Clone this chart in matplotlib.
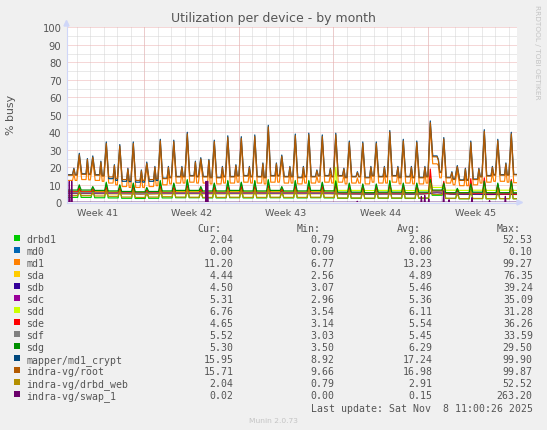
import matplotlib
matplotlib.use("Agg")
import matplotlib.pyplot as plt
from matplotlib.patches import Rectangle, Polygon
from matplotlib.lines import Line2D
from matplotlib.transforms import blended_transform_factory

W, H = 547, 431
DAYS = 33.333          # munin "month" = 800 h
FIRST_PEAK = 0.91      # first daily peak (days from left edge)
FIRST_SUNDAY = 5.73    # first week boundary (days from left edge)

TITLE = "Utilization per device - by month"
YLABEL = "% busy"
WEEKS = ["Week 41", "Week 42", "Week 43", "Week 44", "Week 45"]

NAMES = ["drbd1", "md0", "md1", "sda", "sdb", "sdc", "sdd", "sde", "sdf", "sdg",
         "mapper/md1_crypt", "indra-vg/root", "indra-vg/drbd_web", "indra-vg/swap_1"]
COLORS = ["#00CC00", "#0066B3", "#FF8000", "#FFCC00", "#330099", "#990099", "#CCFF00",
          "#FF0000", "#808080", "#008F00", "#00487D", "#B35A00", "#B38F00", "#6B006B"]
CUR = [2.04, 0.00, 11.20, 4.44, 4.50, 5.31, 6.76, 4.65, 5.52, 5.30, 15.95, 15.71, 2.04, 0.02]
MIN = [0.79, 0.00, 6.77, 2.56, 3.07, 2.96, 3.54, 3.14, 3.03, 3.50, 8.92, 9.66, 0.79, 0.00]
AVG = [2.86, 0.00, 13.23, 4.89, 5.46, 5.36, 6.11, 5.54, 5.45, 6.29, 17.24, 16.98, 2.91, 0.15]
MAX = [52.53, 0.10, 99.27, 76.35, 39.24, 35.09, 31.28, 36.26, 33.59, 29.50, 99.90, 99.87, 52.52, 263.20]

# ---- series (one value per day) ----
ROOT_PEAK = [27.2, 25.7, 33.6, 32.2, 33.6, 22.2, 35.1, 34.7, 39.1, 24.8, 34.7, 37.1, 36.6, 37.6, 43.1, 26.3,
             38.1, 38.6, 37.6, 38.6, 34.2, 33.7, 33.6, 40.1, 35.1, 34.2, 45.5, 36.2, 20.4, 34.2, 40.6, 35.2, 39.1]
ROOT_SECOND = [19, 24.5, 23, 21, 19, 18, 20, 20, 20, 23, 24, 20, 21, 20, 22, 22, 20, 20, 18, 19, 19, 17,
               20, 20, 20, 20, 20, 24, 17, 19, 19, 20, 22]
ROOT_BASE_A = [15.5, 16, 15.5, 14.5, 13, 12.5, 13, 13.5, 14.5, 15, 14.5, 14, 14.5, 15, 14.5, 15, 14.5, 14,
               14.5, 15, 15, 14.5, 14, 14.5, 15, 14.5, 14, 26, 14, 12.5, 13, 15, 15.5]
ROOT_BASE_B = [15.5, 15.8, 15, 13.5, 12.5, 12.5, 13.5, 14, 14.5, 14.5, 14, 14.5, 15, 14.5, 14, 15, 14.5, 14.5,
               15, 14.5, 14, 14.5, 15, 14.5, 14, 14, 14.5, 17, 13, 12.5, 14.5, 15.5, 15.5]

MAP_PEAK = [28, 26.5, 34.5, 33, 34.5, 23, 36, 35.5, 40, 25.5, 35.5, 38, 37.5, 38.5, 44, 27, 39, 39.5, 38.5,
            39.5, 35, 34.5, 34.5, 41, 36, 35, 46.5, 37, 21, 35, 41.5, 36, 40]
MAP_SECOND = [19.5, 25, 23.5, 21.5, 19.5, 18.5, 20.5, 20.5, 20.5, 23.5, 24.5, 20.5, 21.5, 20.5, 22.5, 22.5,
              20.5, 20.5, 18.5, 19.5, 19.5, 17.5, 20.5, 20.5, 20.5, 20.5, 20.5, 24.5, 17.5, 19.5, 19.5, 20.5, 22.5]
MAP_BASE_A = [15.8, 16.3, 15.8, 13.5, 12, 11.5, 12, 13.8, 14.8, 15.3, 14.8, 14.3, 14.8, 15.3, 14.8, 15.3, 14.8,
              14.3, 14.8, 15.3, 15.3, 14.8, 14.3, 14.8, 15.3, 14.8, 14.3, 26.5, 14.3, 12.8, 13.3, 15.3, 15.8]
MAP_BASE_B = [15.8, 16.1, 15.3, 12.5, 11.8, 11.5, 12.5, 14.3, 14.8, 14.8, 14.3, 14.8, 15.3, 14.8, 14.3, 15.3,
              14.8, 14.8, 15.3, 14.8, 14.3, 14.8, 15.3, 14.8, 14.3, 14.3, 14.8, 17.3, 13.3, 12.8, 14.8, 15.8, 15.8]

MD1_PEAK = [25, 23.5, 31, 30, 31, 20, 32.5, 32, 36.5, 22.5, 32, 34.5, 34, 35, 40, 24, 35.5, 36, 35, 36, 31.5,
            31, 31, 37.5, 32.5, 31.5, 43, 33.5, 18, 31.5, 38, 32.5, 36.5]
MD1_SECOND = [16, 21.5, 20, 18, 16, 15, 17, 17, 17, 20, 21, 17, 18, 17, 19, 19, 17, 17, 15, 16, 16, 14, 17, 17,
              17, 17, 17, 21, 14, 16, 16, 17, 19]
MD1_BASE_A = [12.5, 13, 12.5, 11, 9, 8.5, 9, 10, 11, 11.5, 11, 10.5, 11, 11.5, 11, 11.5, 11, 10.5, 11, 11.5,
              11.5, 11, 10.5, 11, 11.5, 11, 10.5, 22, 11, 9.5, 10, 11.5, 12]
MD1_BASE_B = [12.5, 12.8, 12, 10, 8.5, 8.5, 9.5, 10.5, 11, 11, 10.5, 11, 11.5, 11, 10.5, 11.5, 11, 11, 11.5, 11,
              10.5, 11, 11.5, 11, 10.5, 10.5, 11, 14, 10, 9.5, 11, 12, 11.5]

SDG_BASE = [7, 7, 6.8, 6.5, 6.2, 6.0, 6.2, 6.5, 6.8, 6.8, 6.5, 6.5, 6.8, 6.5, 6.5, 6.8, 6.5, 6.5, 6.8, 6.5,
            5.8, 5.8, 5.5, 5.8, 5.8, 5.5, 5.8, 7, 5.5, 5.5, 5.8, 5.5, 5.5]
SDG_PEAK = [10, 9, 11, 10, 11, 8.5, 12, 11, 12.5, 9, 11, 12, 11.5, 12, 12.5, 9, 12, 12, 11.5, 12, 11, 10.5,
            10.5, 12, 11, 11, 13, 11, 8, 10.5, 12, 11, 12]
DRBD1_BASE = [2.8, 2.8, 2.6, 2.5, 2.3, 2.2, 2.3, 2.5, 2.6, 2.6, 2.5, 2.5, 2.6, 2.5, 2.5, 2.6, 2.5, 2.5, 2.6,
              2.5, 2.3, 2.3, 2.2, 2.3, 2.3, 2.2, 2.3, 4, 2.2, 2.0, 2.1, 2.0, 2.1]
DRBD1_PEAK = [9, 8, 11.5, 9.5, 10.5, 7.5, 12.5, 10.5, 13, 8, 10.5, 12.5, 11, 12.5, 13, 8, 12.5, 12.5, 11, 12.5,
              10.5, 10, 10, 12.5, 10.5, 10.5, 13.5, 10.5, 7, 10, 12.5, 10.5, 12.5]
WEB_BASE = [3.8, 3.8, 3.6, 3.4, 3.0, 2.8, 3.0, 3.2, 3.0, 2.9, 2.8, 2.8, 2.9, 2.8, 2.8, 2.9, 2.8, 2.8, 2.9, 2.8,
            2.5, 2.5, 2.4, 2.5, 2.5, 2.4, 2.5, 4.5, 2.3, 2.1, 2.2, 2.1, 2.1]
WEB_PEAK = [6, 5.5, 7, 6.5, 7, 5, 7.5, 7, 8, 5.5, 7, 7.5, 7, 7.5, 8, 5.5, 7.5, 7.5, 7, 7.5, 7, 6.5, 6.5, 7.5,
            7, 7, 11, 7, 5, 6.5, 7.5, 7, 7.5]
SDE_BASE = [6, 6, 5.8, 5.6, 5.5, 5.4, 5.5, 5.6, 5.7, 5.7, 5.6, 5.6, 5.7, 5.6, 5.6, 5.7, 5.6, 5.6, 5.7, 5.6,
            5.2, 5.2, 5.1, 5.2, 5.2, 5.1, 5.2, 6.5, 5.0, 5.0, 5.1, 4.9, 4.8]
SDE_PEAK = [8, 7.5, 8.5, 8, 8.5, 7, 9, 8.5, 9.5, 7.5, 8.5, 9, 9, 9, 9.5, 7.5, 9, 9, 9, 10, 8.5, 8.5, 8.5, 9.5,
            9, 9, 19, 12, 7, 13.5, 14, 10, 13]
SDD_BASE = [6.3, 6.3, 6.2, 6.0, 5.8, 5.8, 5.9, 6.0, 6.2, 6.2, 6.0, 6.0, 6.2, 6.0, 6.0, 6.2, 6.0, 6.0, 6.2, 6.5,
            6.8, 6.8, 6.7, 6.8, 6.8, 6.7, 6.8, 8.5, 6.9, 6.8, 6.9, 6.8, 6.9]
SDD_PEAK = [8, 7.5, 8.5, 8, 8.5, 7, 9, 8.5, 9.5, 7.5, 8.5, 9, 9, 9, 9.5, 7.5, 9, 9, 9, 20, 9, 9, 9, 9.5, 9, 9,
            15, 9, 7.5, 9, 9.5, 9, 9.5]
SDA_BASE = [5, 5, 4.9, 4.8, 4.7, 4.6, 4.7, 4.8, 4.9, 4.9, 4.8, 4.8, 4.9, 4.8, 4.8, 4.9, 4.8, 4.8, 4.9, 4.8,
            4.7, 4.7, 4.6, 4.7, 4.7, 4.6, 4.7, 6, 4.6, 4.5, 4.5, 4.4, 4.5]
SDB_BASE = [5.3, 5.3, 5.2, 5.1, 5.0, 4.9, 5.0, 5.1, 5.2, 5.2, 5.1, 5.1, 5.2, 5.1, 5.1, 5.2, 5.1, 5.1, 5.2, 5.1,
            4.8, 4.8, 4.7, 4.8, 4.8, 4.7, 4.8, 5.5, 4.7, 4.6, 4.6, 4.5, 4.6]
SDC_BASE = [5.5, 5.5, 5.3, 5.2, 5.1, 5.0, 5.1, 5.2, 5.3, 5.3, 5.2, 5.2, 5.3, 5.2, 5.2, 5.3, 5.2, 5.2, 5.3, 5.2,
            5.3, 5.3, 5.2, 5.3, 5.3, 5.2, 5.3, 5.8, 5.3, 5.3, 5.4, 5.3, 5.3]
SDF_BASE = [5.6, 5.6, 5.4, 5.3, 5.2, 5.1, 5.2, 5.3, 5.4, 5.4, 5.3, 5.3, 5.4, 5.3, 5.3, 5.4, 5.3, 5.3, 5.4, 5.3,
            5.4, 5.4, 5.3, 5.4, 5.4, 5.3, 5.4, 6, 5.4, 5.4, 5.5, 5.4, 5.5]
MD0_BASE = [0.0] * 33

SWAP_T = [0.0, 0.13, 0.17, 0.21, 0.31, 0.35, 0.39, 10.26, 10.30, 10.34, 10.38, 10.42, 10.46, 21.46, 21.5,
          21.54, 26.21, 26.25, 26.29, 26.46, 26.5, 26.54, 26.76, 26.8, 26.84, 27.86, 27.9, 27.94, 28.26, 28.3,
          28.34, 29.96, 30.0, 30.04, 31.26, 31.3, 31.34, 32.43, 32.47, 32.51, 33.333]
SWAP_V = [0, 0, 12, 0, 0, 12, 0, 0, 12, 0, 0, 12, 0, 0, 0.6, 0, 0, 3.4, 0, 0, 4, 0, 0, 2, 0, 0, 6.5, 0, 0,
          1.5, 0, 0, 2.7, 0, 0, 1.0, 0, 0, 3.4, 0, 0.02]


def main_series(base_a, second, base_b, peaks, end):
    t, v = [0.0], [base_a[0]]
    for k in range(len(peaks)):
        tm = FIRST_PEAK + k
        t += [tm - 0.82, tm - 0.5, tm - 0.4, tm - 0.3, tm - 0.18, tm]
        v += [base_a[k], base_a[k], second[k], base_b[k], base_b[k], peaks[k]]
    t += [FIRST_PEAK + len(peaks) - 0.82, DAYS]
    v += [end, end]
    return t, v


def spiky_series(base, peaks, end):
    t, v = [0.0], [base[0]]
    n = len(peaks)
    for k in range(n):
        tm = FIRST_PEAK + k
        after = base[k + 1] if k + 1 < n else end
        t += [tm - 0.5, tm - 0.12, tm, tm + 0.14]
        v += [base[k], base[k], peaks[k], after]
    t += [DAYS]
    v += [end]
    return t, v


def flat_series(base, end):
    t, v = [0.0], [base[0]]
    for k in range(len(base)):
        t.append(FIRST_PEAK + k - 0.5)
        v.append(base[k])
    t.append(DAYS)
    v.append(end)
    return t, v


SERIES = [
    spiky_series(DRBD1_BASE, DRBD1_PEAK, CUR[0]),
    flat_series(MD0_BASE, CUR[1]),
    main_series(MD1_BASE_A, MD1_SECOND, MD1_BASE_B, MD1_PEAK, CUR[2]),
    flat_series(SDA_BASE, CUR[3]),
    flat_series(SDB_BASE, CUR[4]),
    flat_series(SDC_BASE, CUR[5]),
    spiky_series(SDD_BASE, SDD_PEAK, CUR[6]),
    spiky_series(SDE_BASE, SDE_PEAK, CUR[7]),
    flat_series(SDF_BASE, CUR[8]),
    spiky_series(SDG_BASE, SDG_PEAK, CUR[9]),
    main_series(MAP_BASE_A, MAP_SECOND, MAP_BASE_B, MAP_PEAK, CUR[10]),
    main_series(ROOT_BASE_A, ROOT_SECOND, ROOT_BASE_B, ROOT_PEAK, CUR[11]),
    spiky_series(WEB_BASE, WEB_PEAK, CUR[12]),
    (SWAP_T, SWAP_V),
]

TXT = "#555555"
AXIS_C = "#CFD6F8"

fig = plt.figure(figsize=(W / 100, H / 100), dpi=100, facecolor="#F0F0F0")
ax = fig.add_axes([67 / W, 1 - 203.3 / H, 450 / W, 175 / H])
ax.set_facecolor("white")
ax.set_xlim(0, DAYS)
ax.set_ylim(0, 100)
for s in ax.spines.values():
    s.set_visible(False)
ax.set_xticks([])
ax.set_yticks([])

# grid (dotted, like rrdtool's 1:1 grid dash)
dash = (0, (1, 1))
MINOR_C, MAJOR_C = "#D4D4D4", "#EDB0B0"
for v in range(5, 100, 10):
    ax.axhline(v, color=MINOR_C, lw=0.72, ls=dash, zorder=0.5)
day = FIRST_SUNDAY - 5
while day < DAYS:
    ax.axvline(day, color=MINOR_C, lw=0.72, ls=dash, zorder=0.5)
    day += 1
for v in range(10, 101, 10):
    ax.axhline(v, color=MAJOR_C, lw=0.72, ls=dash, zorder=0.6)
wk = FIRST_SUNDAY
while wk < DAYS:
    ax.axvline(wk, color=MAJOR_C, lw=0.72, ls=dash, zorder=0.6)
    wk += 7

for (t, v), c in zip(SERIES, COLORS):
    ax.plot(t, v, color=c, lw=0.85, zorder=2)

# axes lines + arrows
fx = lambda x: x / W
fy = lambda y: 1 - y / H
fig.add_artist(Line2D([fx(66.5), fx(518)], [fy(203.5), fy(203.5)], color=AXIS_C, lw=0.8))
fig.add_artist(Line2D([fx(66.5), fx(66.5)], [fy(203.5), fy(25)], color=AXIS_C, lw=0.8))
fig.add_artist(Polygon([[fx(517), fy(201)], [fx(522.5), fy(203.5)], [fx(517), fy(206)]],
                       closed=True, color=AXIS_C, transform=fig.transFigure))
fig.add_artist(Polygon([[fx(64), fy(27)], [fx(66.5), fy(21.5)], [fx(69), fy(27)]],
                       closed=True, color=AXIS_C, transform=fig.transFigure))

# y tick labels
ty = blended_transform_factory(fig.transFigure, ax.transData)
for v in range(0, 101, 10):
    ax.text(fx(61.5), v, str(v), transform=ty, ha="right", va="center_baseline",
            fontsize=7.2, color=TXT, clip_on=False)
# week labels
tx = blended_transform_factory(ax.transData, fig.transFigure)
for i, lab in enumerate(WEEKS):
    ax.text(FIRST_SUNDAY - 3.5 + 7 * i, fy(215.8), lab, transform=tx, ha="center",
            va="baseline", fontsize=6.8, color=TXT, clip_on=False)

fig.text(fx(273.5), fy(22.3), TITLE, ha="center", va="baseline", fontsize=9, color=TXT)
fig.text(fx(10.5), fy(115), YLABEL, ha="center", va="center", rotation=90, fontsize=7.9, color=TXT)
fig.text(fx(537), fy(52.5), "RRDTOOL / TOBI OETIKER", ha="center", va="center", rotation=270,
         fontsize=5.3, color="#C4C4C4")

# legend
mono = dict(family="DejaVu Sans Mono", fontsize=7.1, color=TXT)
for hx, h in zip([221, 321, 420.5, 520.6], ["Cur:", "Min:", "Avg:", "Max:"]):
    fig.text(fx(hx), fy(231.7), h, ha="right", va="baseline", **mono)
for i, name in enumerate(NAMES):
    yb = 243.3 + 12 * i
    fig.add_artist(Rectangle((fx(14), fy(yb - 1.2)), 6 / W, 6 / H, transform=fig.transFigure,
                             color=COLORS[i], lw=0))
    fig.text(fx(26.2), fy(yb), name, ha="left", va="baseline", **mono)
    for cx, val in zip([233.8, 334, 432.7, 532.8], [CUR[i], MIN[i], AVG[i], MAX[i]]):
        fig.text(fx(cx), fy(yb), "%.2f" % val, ha="right", va="baseline", **mono)
fig.text(fx(532.8), fy(411.7), "Last update: Sat Nov  8 11:00:26 2025", ha="right", va="baseline", **mono)
fig.text(fx(273), fy(423), "Munin 2.0.73", ha="center", va="baseline", fontsize=5.4, color="#C4C4C4")

fig.savefig("out.png", dpi=100, facecolor=fig.get_facecolor())
